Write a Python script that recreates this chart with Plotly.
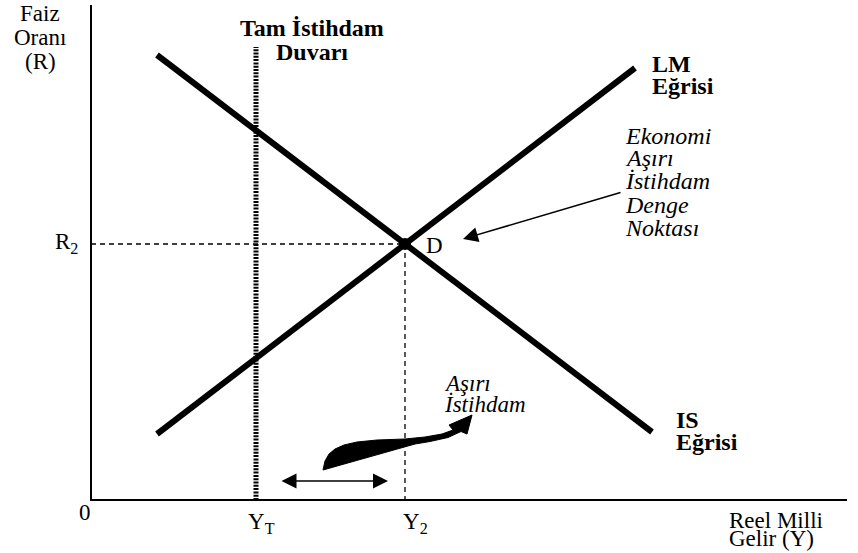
import plotly.graph_objects as go

# ---- data (income on x, interest rate on y) ----
is_x = [6.6, 56.1]
is_y = [44.5, 6.8]
lm_x = [6.6, 54.4]
lm_y = [6.6, 43.2]
Y2 = 31.4
R2 = 25.6
YT = 16.5
wall_top = 45.3
axis_x_end = 75.6
axis_y_end = 49.5

# swoosh ("Aşırı İstihdam" arrow) outline
swoosh_x = [23.2, 23.4, 23.8, 24.4, 25.3, 26.6, 28.6, 31.4, 33.4, 35.1, 36.2, 35.8, 38.1, 37.6, 37.0, 35.7, 33.9, 32.4, 23.2]
swoosh_y = [3.0, 3.9, 4.6, 5.1, 5.5, 5.8, 6.0, 6.1, 6.3, 6.6, 7.0, 7.5, 8.5, 6.6, 6.85, 6.25, 5.85, 5.6, 3.0]

# double arrow (gap between Y_T and Y_2)
gap_x = [18.9, 29.7]
gap_y = 1.9
# pointer arrow to D
ptr_tail = [53.1, 30.8]
ptr_head = [37.2, 26.1]

FONT = "Liberation Serif"
BLACK = "#000000"

fig = go.Figure()

# axes
fig.add_trace(go.Scatter(x=[0, 0, axis_x_end], y=[axis_y_end, 0, 0], mode="lines",
                         line=dict(color=BLACK, width=2), hoverinfo="skip"))
# guides
fig.add_trace(go.Scatter(x=[0, Y2], y=[R2, R2], mode="lines",
                         line=dict(color=BLACK, width=1.3, dash="5px,4px"), hoverinfo="skip"))
fig.add_trace(go.Scatter(x=[Y2, Y2], y=[R2, 0], mode="lines",
                         line=dict(color=BLACK, width=1.3, dash="5px,4px"), hoverinfo="skip"))
# full employment wall
fig.add_trace(go.Scatter(x=[YT, YT], y=[0, wall_top], mode="lines",
                         line=dict(color=BLACK, width=5, dash="2px,1.3px"), hoverinfo="skip"))
# IS and LM
fig.add_trace(go.Scatter(x=is_x, y=is_y, mode="lines", line=dict(color=BLACK, width=6), hoverinfo="skip"))
fig.add_trace(go.Scatter(x=lm_x, y=lm_y, mode="lines", line=dict(color=BLACK, width=6), hoverinfo="skip"))
# equilibrium point
fig.add_trace(go.Scatter(x=[Y2], y=[R2], mode="markers", marker=dict(color=BLACK, size=12), hoverinfo="skip"))
# swoosh
fig.add_trace(go.Scatter(x=swoosh_x, y=swoosh_y, mode="lines", fill="toself", fillcolor=BLACK,
                         line=dict(color=BLACK, width=1), hoverinfo="skip"))

ann = []
def txt(x, y, t, size=23, bold=False, italic=False, xanchor="center"):
    s = t
    if bold:
        s = "<b>" + s + "</b>"
    if italic:
        s = "<i>" + s + "</i>"
    ann.append(dict(x=x, y=y, xref="x", yref="y", text=s, showarrow=False,
                    xanchor=xanchor, yanchor="middle",
                    font=dict(family=FONT, size=size, color=BLACK)))

txt(-5.1, 48.7, "Faiz")
txt(-5.1, 46.3, "Oranı")
txt(-5.1, 43.9, "(R)")
txt(22.1, 47.2, "Tam İstihdam", size=24, bold=True)
txt(22.1, 44.8, "Duvarı", size=24, bold=True)
txt(55.9, 43.6, "LM", size=24, bold=True, xanchor="left")
txt(55.9, 41.4, "Eğrisi", size=24, bold=True, xanchor="left")
for i, line in enumerate(["Ekonomi", "Aşırı", "İstihdam", "Denge", "Noktası"]):
    txt(53.2, [36.4, 34.2, 31.9, 29.5, 27.2][i], line, size=24, italic=True, xanchor="left")
txt(58.3, 8.0, "IS", size=24, bold=True, xanchor="left")
txt(58.3, 5.8, "Eğrisi", size=24, bold=True, xanchor="left")
txt(35.1, 11.7, "Aşırı", size=23, italic=True, xanchor="left")
txt(35.1, 9.6, "İstihdam", size=23, italic=True, xanchor="left")
txt(34.3, 25.5, "D")
txt(-2.5, 25.7, "R<sub>2</sub>")
txt(-0.6, -1.2, "0")
txt(17.0, -2.3, "Y<sub>T</sub>")
txt(32.4, -2.3, "Y<sub>2</sub>")
txt(63.6, -2.0, "Reel Milli", xanchor="left")
txt(63.6, -3.8, "Gelir (Y)", xanchor="left")

# arrows
ann.append(dict(x=ptr_head[0], y=ptr_head[1], ax=ptr_tail[0], ay=ptr_tail[1],
                xref="x", yref="y", axref="x", ayref="y", text="", showarrow=True,
                arrowhead=2, arrowsize=2, arrowwidth=1.5, arrowcolor=BLACK))
ann.append(dict(x=gap_x[1], y=gap_y, ax=gap_x[0], ay=gap_y, xref="x", yref="y", axref="x", ayref="y",
                text="", showarrow=True, arrowside="end+start", arrowhead=2, startarrowhead=2,
                arrowsize=2, startarrowsize=2, arrowwidth=1.5, arrowcolor=BLACK))

fig.update_layout(
    width=858, height=553, autosize=False,
    margin=dict(l=0, r=0, t=0, b=0),
    paper_bgcolor="white", plot_bgcolor="white",
    showlegend=False,
    xaxis=dict(range=[-9.1, 76.7], visible=False, fixedrange=True),
    yaxis=dict(range=[-5.3, 50.0], visible=False, fixedrange=True),
    annotations=ann,
)
fig.write_html("out.html", config={"displayModeBar": False},
               post_script="document.body.style.margin='0';document.body.style.overflow='hidden';")
